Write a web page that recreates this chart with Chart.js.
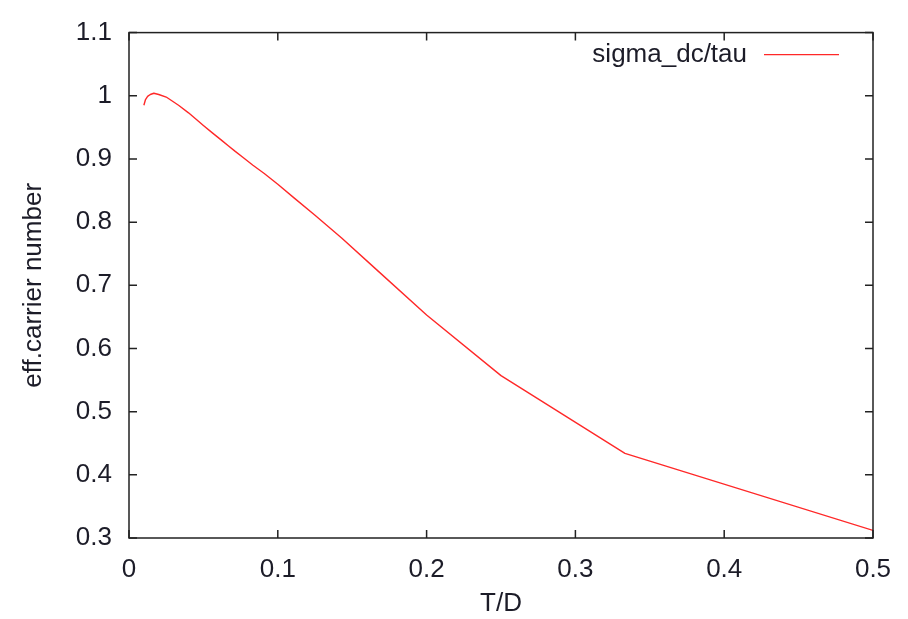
<!DOCTYPE html>
<html>
<head>
<meta charset="utf-8">
<script src="https://cdn.jsdelivr.net/npm/chart.js@4.4.1/dist/chart.umd.min.js"></script>
<style>
  html, body { margin: 0; padding: 0; background: #fff; }
  #wrap { width: 908px; height: 619px; }
</style>
</head>
<body>
<div id="wrap"><canvas id="chart" width="908" height="619"></canvas></div>
<script>
// T/D values (data sampled at 1/n) and effective carrier number
var td = [0.5, 0.3333, 0.25, 0.2, 0.1667, 0.1429, 0.125, 0.1111, 0.1, 0.0909,
          0.0833, 0.0769, 0.0714, 0.0667, 0.0625, 0.0556, 0.05, 0.0455, 0.04,
          0.0333, 0.025, 0.02, 0.0167, 0.0143, 0.0125, 0.0111, 0.01];
var effCarrier = [0.312, 0.434, 0.557, 0.653, 0.724, 0.775, 0.811, 0.838, 0.860, 0.877,
                  0.890, 0.902, 0.912, 0.921, 0.929, 0.942, 0.953, 0.962, 0.973,
                  0.985, 0.998, 1.002, 1.004, 1.002, 0.999, 0.994, 0.985];
var xTicks = [0, 0.1, 0.2, 0.3, 0.4, 0.5];
var yTicks = [0.3, 0.4, 0.5, 0.6, 0.7, 0.8, 0.9, 1.0, 1.1];
var seriesName = 'sigma_dc/tau';

var FONT = 'Liberation Sans, Arial, Helvetica, sans-serif';
var TXT = '#1c1c28';
var RED = 'rgb(255,40,40)';

var points = td.map(function (x, i) { return { x: x, y: effCarrier[i] }; });

// gnuplot-like frame with inward ticks, plus the key in the top right corner
var frame = {
  id: 'frame',
  afterDraw: function (chart) {
    var ctx = chart.ctx, a = chart.chartArea;
    var xs = chart.scales.x, ys = chart.scales.y;
    var len = 8;
    ctx.save();
    ctx.strokeStyle = '#222';
    ctx.lineWidth = 1.5;
    ctx.strokeRect(a.left, a.top, a.right - a.left, a.bottom - a.top);
    ctx.beginPath();
    xTicks.forEach(function (v) {
      var px = xs.getPixelForValue(v);
      ctx.moveTo(px, a.bottom); ctx.lineTo(px, a.bottom - len);
      ctx.moveTo(px, a.top); ctx.lineTo(px, a.top + len);
    });
    yTicks.forEach(function (v) {
      var py = ys.getPixelForValue(v);
      ctx.moveTo(a.left, py); ctx.lineTo(a.left + len, py);
      ctx.moveTo(a.right, py); ctx.lineTo(a.right - len, py);
    });
    ctx.stroke();

    // key
    var ky = a.top + 22;
    ctx.font = '26px ' + FONT;
    ctx.fillStyle = TXT;
    ctx.textAlign = 'right';
    ctx.textBaseline = 'middle';
    ctx.fillText(seriesName, a.right - 126, ky);
    ctx.strokeStyle = RED;
    ctx.lineWidth = 1.4;
    ctx.beginPath();
    ctx.moveTo(a.right - 109, ky);
    ctx.lineTo(a.right - 34, ky);
    ctx.stroke();
    ctx.restore();
  }
};

new Chart(document.getElementById('chart'), {
  type: 'scatter',
  data: {
    datasets: [{
      label: seriesName,
      data: points,
      showLine: true,
      tension: 0,
      borderColor: RED,
      borderWidth: 1.4,
      borderJoinStyle: 'round',
      pointRadius: 0,
      fill: false
    }]
  },
  plugins: [frame],
  options: {
    responsive: false,
    animation: false,
    layout: { padding: { top: 21, right: 35, left: 0, bottom: 0 } },
    plugins: {
      legend: { display: false },
      tooltip: { enabled: false }
    },
    scales: {
      x: {
        type: 'linear',
        min: 0, max: 0.5,
        afterBuildTicks: function (s) { s.ticks = xTicks.map(function (v) { return { value: v }; }); },
        afterFit: function (s) { s.height = 81; },
        grid: { display: false, drawTicks: false },
        border: { display: false },
        ticks: {
          padding: 16, color: TXT, font: { family: FONT, size: 26 },
          callback: function (v) { return String(Math.round(v * 10) / 10); }
        },
        title: {
          display: true, text: 'T/D', color: TXT,
          font: { family: FONT, size: 26 }, padding: { top: 0, bottom: 0 }
        }
      },
      y: {
        type: 'linear',
        min: 0.3, max: 1.1,
        afterBuildTicks: function (s) { s.ticks = yTicks.map(function (v) { return { value: v }; }); },
        afterFit: function (s) { s.width = 129; },
        grid: { display: false, drawTicks: false },
        border: { display: false },
        ticks: {
          padding: 17, color: TXT, font: { family: FONT, size: 26 },
          callback: function (v) { return String(Math.round(v * 10) / 10); }
        },
        title: {
          display: true, text: 'eff.carrier number', color: TXT,
          font: { family: FONT, size: 26 }, padding: { top: 18, bottom: 0 }
        }
      }
    }
  }
});
</script>
</body>
</html>
